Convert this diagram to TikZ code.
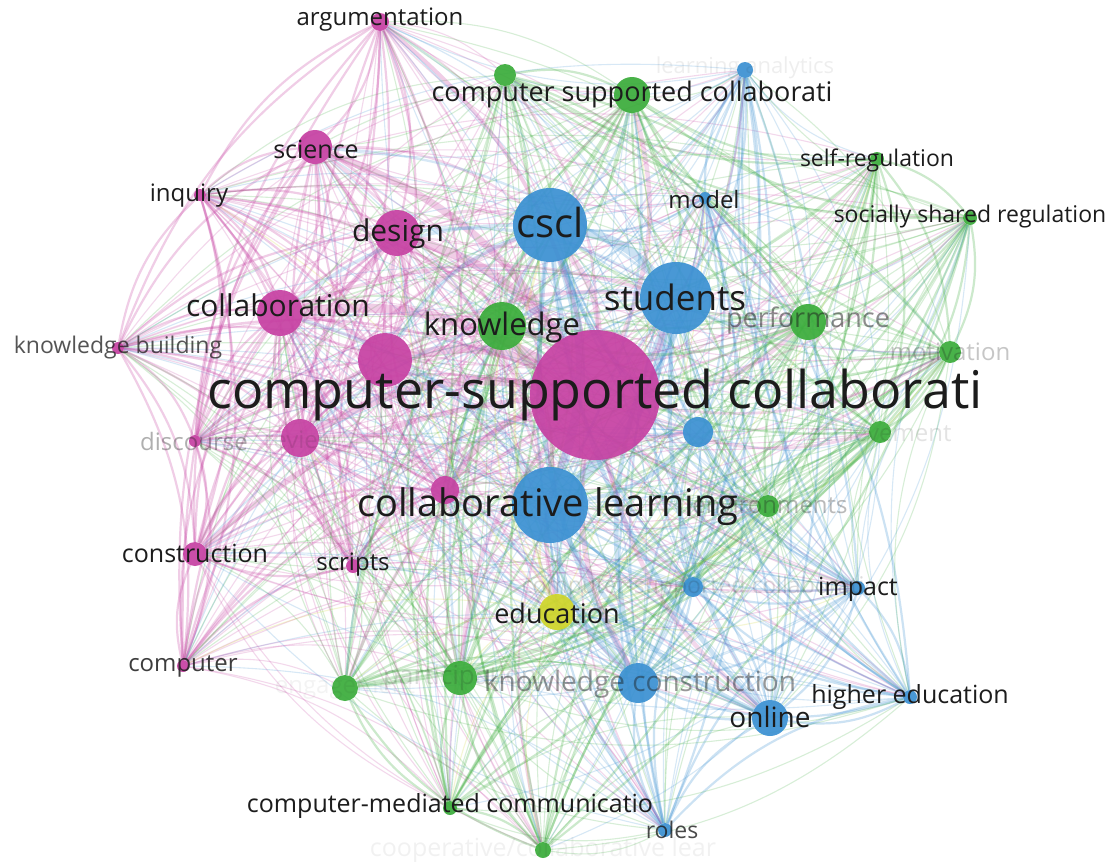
\documentclass[tikz,border=0pt]{standalone}
\usepackage{fontspec}
\setmainfont{Open Sans}
\pgfdeclarelayer{links}
\pgfdeclarelayer{labels}
\pgfsetlayers{links,main,labels}

\definecolor{pk}{RGB}{198,64,162}
\definecolor{bl}{RGB}{58,144,210}
\definecolor{gr}{RGB}{58,172,58}
\definecolor{ye}{RGB}{206,212,40}
\definecolor{ink}{RGB}{28,28,28}

\tikzset{
  item/.style={circle, inner sep=0pt, draw=none, fill=#1, fill opacity=0.92},
  lab/.style={inner sep=0pt, text=ink, font=\fontsize{#1}{#1}\selectfont},
  dim/.style={text=ink, text opacity=#1},
}

% name / x / y / radius / cluster colour, from small to large items
\def\itemlist{kb/118/348/6/pk, inq/200/195/6/pk, disc/195/441/6/pk, comp/183/666/6/pk,
  scr/353/566/7/pk, mod/705/198/6/bl, roles/665/830/7/bl, imp/858/588/7/bl,
  he/910/697/7/bl, sr/877/159/7/gr, ssr/970/218/7/gr, cmc/450/808/7/gr,
  anal/745/70/8/bl, coop/543/850/8/gr, arg/380/22/9/pk, cscat/693/587/10/bl,
  gtop/505/75/11/gr, motiv/950/352/11/gr, ach/880/432/11/gr, env/768/506/11/gr,
  constr/195/554/12/pk, eng/345/688/13/gr, pkx/445/490/14/pk, bx/698/432/15/bl,
  sci/315/147/17/pk, part/460/678/17/gr, perf/808/322/18/gr, cscol/632/95/18/gr,
  edu/557/612/18/ye, onl/770/718/18/bl, rev/300/438/19/pk, kc/638/683/20/bl,
  des/397/233/23/pk, colab/280/313/23/pk, know/502/326/24/gr, pkc/385/360/27/pk,
  cscl/550/225/37/bl, stud/676/298/36/bl, cl/550/505/38/bl, main/595/395/65/pk}

\begin{document}
\begin{tikzpicture}[x=1pt,y=-1pt]
\useasboundingbox (0,0) rectangle (1115,863);

% item circles
\foreach \n/\x/\y/\r/\c in \itemlist {
  \node[item=\c, minimum size={2*\r*1pt}] (\n) at (\x,\y) {};
}

% co-occurrence links: strong within a cluster, weaker across clusters;
% every link of the central item (number 40) takes its colour
\begin{pgfonlayer}{links}
\fill[white] (0,0) rectangle (1115,863);
\foreach \a/\ax/\ay/\ar/\ac [count=\i] in \itemlist {
  \foreach \b/\bx/\by/\br/\bc [count=\j] in \itemlist {
    \ifnum\j>\i
      \edef\colA{\ac}\edef\colB{\bc}%
      \ifx\colA\colB
        \pgfmathsetmacro\w{min(9,max(2.2,\ar*\br/150))}%
        \draw[line width=\w pt, draw=\ac, opacity=0.26] (\a) to[bend left=18] (\b);
      \else
        \pgfmathsetmacro\w{min(6,max(1.1,\ar*\br/260))}%
        \pgfmathparse{int(mod(\i+\j,2))}%
        \ifnum\j=40 \def\pgfmathresult{1}\fi
        \ifnum\pgfmathresult=0
          \draw[line width=\w pt, draw=\ac, opacity=0.2] (\a) to[bend left=18] (\b);
        \else
          \draw[line width=\w pt, draw=\bc, opacity=0.2] (\a) to[bend left=18] (\b);
        \fi
      \fi
    \fi
  }
}
\end{pgfonlayer}

% item labels
\begin{pgfonlayer}{labels}
\node[lab=52] (l-main) at (595,395) {computer-supported collaborati};
\node[lab=40] (l-cscl) at (550,222) {cscl};
\node[lab=35] (l-stud) at (675,297) {students};
\node[lab=38] (l-cl) at (548,507) {collaborative learning};
\node[lab=31] (l-know) at (502,327) {knowledge};
\node[lab=30] (l-colab) at (278,305) {collaboration};
\node[lab=30] (l-des) at (398,234) {design};
\node[lab=27] (l-cscol) at (632,94) {computer supported collaborati};
\node[lab=27, dim=0.5] (l-perf) at (808,320) {performance};
\node[lab=28, dim=0.45] (l-kc) at (640,684) {knowledge construction};
\node[lab=27] (l-edu) at (557,613) {education};
\node[lab=28] (l-onl) at (770,717) {online};
\node[lab=25] (l-sci) at (316,149) {science};
\node[lab=24] (l-arg) at (380,20) {argumentation};
\node[lab=24] (l-inq) at (189,196) {inquiry};
\node[lab=24] (l-mod) at (704,199) {model};
\node[lab=23] (l-sr) at (877,160) {self-regulation};
\node[lab=23] (l-ssr) at (970,217) {socially shared regulation};
\node[lab=23, dim=0.75] (l-kb) at (118,348) {knowledge building};
\node[lab=24, dim=0.25] (l-motiv) at (950,352) {motivation};
\node[lab=24, dim=0.35] (l-disc) at (194,441) {discourse};
\node[lab=24, dim=0.12] (l-ach) at (880,432) {achievement};
\node[lab=24, dim=0.3] (l-env) at (770,505) {environments};
\node[lab=24, dim=0.12] (l-rev) at (300,440) {review};
\node[lab=25] (l-constr) at (195,553) {construction};
\node[lab=24] (l-scr) at (353,565) {scripts};
\node[lab=23, dim=0.15] (l-cscat) at (693,588) {computer-supported collaborati};
\node[lab=25] (l-imp) at (858,589) {impact};
\node[lab=24, dim=0.85] (l-comp) at (183,666) {computer};
\node[lab=26, dim=0.15] (l-part) at (460,678) {participation};
\node[lab=25] (l-he) at (910,697) {higher education};
\node[lab=25] (l-cmc) at (450,806) {computer-mediated communicatio};
\node[lab=23, dim=0.8] (l-roles) at (672,830) {roles};
\node[lab=25, dim=0.06] (l-coop) at (543,850) {cooperative/collaborative lear};
\node[lab=24, dim=0.05] (l-eng) at (345,688) {engagement};
\node[lab=22, dim=0.07] (l-anal) at (745,68) {learning analytics};
\end{pgfonlayer}
\end{tikzpicture}
\end{document}
